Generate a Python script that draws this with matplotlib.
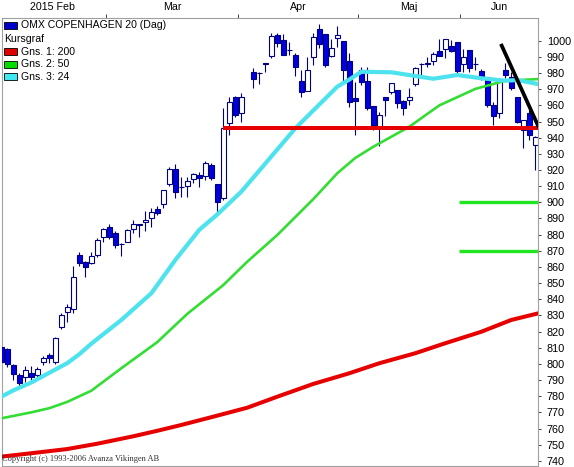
import numpy as np
import matplotlib
matplotlib.use("Agg")
import matplotlib.pyplot as plt
from matplotlib.patches import Rectangle
from matplotlib.transforms import blended_transform_factory

plt.rcParams['font.family'] = ['Liberation Sans', 'DejaVu Sans']

# OMX Copenhagen 20, daily candles Feb - Jun 2015 (slot 41 is empty)
nan = np.nan
opens = [810.5, 809.2, 799.3, 793.1, 791.9, 794.4, 793.1, 801.2, 805.5, 801.2,
         822.8, 832.1, 834.0, 867.4, 863.1, 862.5, 867.4, 878.5, 884.7, 881.0,
         874.5, 875.5, 883.5, 886.0, 887.8, 890.3, 895.9, 899.0, 911.3, 920.6,
         909.6, 910.1, 914.4, 916.9, 916.3, 923.1, 911.3, 902.7, 949.1, 965.2,
         955.3, nan, 980.6, 979.9, 986.2, 990.5, 1003.5, 1000.4, 994.3, 991.2,
         975.1, 969.1, 989.9, 1007.1, 1004.2, 990.5, 1001.5, 999.8, 987.5, 964.7,
         981.9, 975.1, 959.6, 945.8, 965.4, 968.5, 969.5, 963.0, 963.3, 973.0,
         985.5, 986.4, 987.6, 993.6, 994.9, 996.9, 999.4, 985.8, 994.3, 985.5,
         981.3, 977.4, 960.2, 955.1, 981.9, 977.7, 965.2, 944.8, 955.1, 935.5]
highs = [811.7, 810.0, 799.9, 794.4, 798.7, 798.7, 798.1, 804.9, 806.8, 816.7,
         831.5, 837.1, 860.6, 869.3, 863.7, 869.3, 877.9, 884.1, 886.6, 882.0,
         874.8, 883.5, 889.0, 886.3, 894.6, 896.5, 897.7, 907.6, 921.9, 923.7,
         915.7, 915.7, 918.1, 918.8, 925.6, 924.3, 911.3, 958.4, 965.2, 965.8,
         967.7, nan, 983.1, 980.6, 986.2, 1004.6, 1004.6, 1004.2, 999.2, 992.4,
         981.9, 989.7, 1004.6, 1010.2, 1004.2, 1000.9, 1009.1, 999.8, 992.6, 974.6,
         983.9, 983.9, 959.6, 955.9, 965.4, 973.7, 969.5, 963.3, 970.5, 983.9,
         986.4, 990.1, 993.2, 1000.9, 1000.9, 1000.4, 999.4, 994.7, 994.3, 989.7,
         982.5, 977.4, 962.3, 974.6, 986.0, 980.6, 965.4, 950.9, 957.0, 941.0]
lows = [797.5, 798.1, 790.1, 785.1, 788.8, 788.2, 790.1, 799.3, 800.6, 800.0,
        821.6, 825.9, 831.5, 860.6, 853.8, 861.8, 866.0, 875.5, 877.0, 872.0,
        866.8, 875.5, 881.0, 878.5, 882.3, 884.7, 892.2, 896.5, 910.0, 902.7,
        903.3, 903.3, 911.9, 909.5, 913.8, 914.0, 893.4, 901.4, 941.7, 952.8,
        949.7, nan, 970.7, 973.2, 980.6, 989.3, 996.3, 990.9, 991.2, 978.2,
        965.5, 969.0, 985.0, 995.3, 984.0, 989.9, 996.3, 974.6, 959.2, 941.7,
        972.6, 957.0, 944.8, 934.8, 953.4, 967.0, 958.2, 954.0, 960.2, 972.0,
        978.8, 983.9, 985.0, 990.7, 989.1, 993.0, 979.0, 980.8, 980.6, 981.9,
        976.0, 959.0, 947.9, 952.0, 977.0, 969.5, 949.0, 933.8, 938.6, 920.0]
closes = [801.2, 800.0, 793.8, 788.2, 796.2, 791.9, 796.9, 803.7, 803.7, 816.0,
          830.3, 835.2, 853.8, 862.5, 860.0, 866.8, 876.7, 883.5, 878.5, 873.6,
          874.2, 882.9, 886.6, 886.0, 889.0, 894.0, 893.4, 907.6, 920.6, 906.4,
          909.5, 913.2, 917.5, 915.0, 924.3, 915.0, 900.2, 946.0, 962.1, 954.0,
          965.2, nan, 976.3, 979.8, 985.4, 1002.9, 998.8, 990.9, 994.0, 983.7,
          968.0, 981.9, 1002.1, 998.2, 985.0, 995.3, 1003.5, 981.9, 961.8, 962.7,
          974.6, 958.2, 947.9, 954.0, 963.3, 973.7, 961.3, 958.2, 965.4, 982.9,
          985.4, 985.4, 991.8, 990.7, 1000.9, 993.8, 981.4, 990.1, 982.9, 985.4,
          977.6, 960.2, 953.7, 974.6, 978.8, 970.6, 949.9, 950.9, 941.7, 940.2]

ma200_day = [0, 5, 11, 16, 22, 26, 30, 35, 41, 46, 52, 58, 63, 69, 74, 80, 85, 89.5]
ma200 = [742.6, 744.7, 747.3, 750.6, 755.2, 758.6, 762.2, 767.0, 772.9, 779.7,
         787.6, 794.2, 800.4, 806.6, 812.8, 819.9, 827.2, 831.3]
ma50_day = [0, 5, 8, 11, 15, 20, 26, 31, 37, 41, 46, 52, 56, 59, 62, 68, 73,
            79, 84, 89.5]
ma50 = [766.3, 770.0, 772.6, 776.5, 783.4, 797.3, 813.5, 831.0, 848.8, 863.3,
        879.8, 902.0, 918.0, 927.5, 934.4, 946.8, 960.0, 970.2, 975.3, 976.3]
ma24_day = [0, 2, 5, 11, 13, 15, 20, 25, 29, 33, 36, 40, 49, 56, 58, 60, 65,
            72, 76, 80, 84, 86, 89.5]
ma24 = [779.7, 783.6, 788.5, 800.5, 806.0, 812.5, 827.2, 843.7, 864.3, 883.0,
        892.5, 906.6, 945.8, 971.6, 976.0, 980.8, 980.5, 976.5, 978.8, 976.8,
        975.3, 975.7, 973.2]

months = ["2015 Feb", "Mar", "Apr", "Maj", "Jun"]
month_start = [0, 18, 40, 60, 77]

support_level = 946.0
support_from = 37
target_levels = [900, 870]
target_from = 76.3
trend_day = [83.4, 89.5]
trend_val = [997.0, 947.1]

legend_names = ["OMX COPENHAGEN 20 (Dag)", "Kursgraf", "Gns. 1: 200", "Gns. 2: 50", "Gns. 3: 24"]
legend_colors = ["#0000CC", None, "#E00000", "#00DD00", "#40E8F0"]

o = np.array(opens)
h = np.array(highs)
l = np.array(lows)
c = np.array(closes)
day = np.arange(len(o))
ok = np.isfinite(o)
up = ok & (c >= o)
dn = ok & (c < o)

W, H = 574, 467
fig = plt.figure(figsize=(W / 100, H / 100), dpi=100)
x0, x1, ytop, ybot = 1.5, 538.3, 18, 466
ax = fig.add_axes([x0 / W, 1 - ybot / H, (x1 - x0) / W, (ybot - ytop) / H])
ax.set_xlim(0.03, 89.5)
ax.set_ylim(736.8, 1014.1)

edge = "#000080"
ax.vlines(day[ok], l[ok], h[ok], color=edge, lw=0.8, zorder=2)
ax.bar(day[up], np.maximum(c[up] - o[up], 0.3), bottom=o[up], width=0.75,
       facecolor="white", edgecolor=edge, linewidth=0.8, zorder=3)
ax.bar(day[dn], c[dn] - o[dn], bottom=o[dn], width=0.75,
       facecolor="#0000DD", edgecolor=edge, linewidth=0.8, zorder=3)

ax.plot(ma200_day, ma200, color="#E60000", lw=2.9, zorder=4)
ax.plot(ma50_day, ma50, color="#33DD33", lw=1.9, zorder=4)
ax.plot(ma24_day, ma24, color="#4DE3EE", lw=3.0, zorder=4)

ax.hlines(support_level, support_from, 89.5, color="#E60000", lw=2.9, zorder=5)
ax.hlines(target_levels, target_from, 89.5, color="#22E622", lw=2.4, zorder=5)
ax.plot(trend_day, trend_val, color="black", lw=2.7, zorder=6)

# axes look
for side in ["left", "right", "top", "bottom"]:
    ax.spines[side].set_color("#A0A0A0")
    ax.spines[side].set_linewidth(0.8)
ax.yaxis.tick_right()
ax.set_yticks(range(740, 1001, 10))
ax.tick_params(axis="y", direction="out", length=2.5, width=0.7, color="#404040",
               pad=3.6, labelsize=7.8)
ax.xaxis.tick_top()
ax.set_xticks([s - 0.5 for s in month_start[1:]])
ax.set_xticklabels([])
ax.tick_params(axis="x", direction="out", length=3, width=0.7, color="#404040")

tr = blended_transform_factory(ax.transData, ax.transAxes)
bounds = [s - 0.5 for s in month_start[1:]]
lefts = [-0.5] + bounds
rights = bounds + [89.5]
for name, a, b in zip(months, lefts, rights):
    ax.text((a + b) / 2, 1.0246, name, transform=tr, ha="center", va="center",
            fontsize=7.7)

# legend, top left
ys = [25.2, 39.3, 51.7, 64.0, 76.7]
for name, col, yy in zip(legend_names, legend_colors, ys):
    if col is not None:
        fig.add_artist(Rectangle((4 / W, 1 - (yy + 3.5) / H), 13 / W, 7 / H,
                                 transform=fig.transFigure, facecolor=col,
                                 edgecolor="black", linewidth=0.6))
        tx = 20.7
    else:
        tx = 4
    fig.text(tx / W, 1 - yy / H, name, ha="left", va="center", fontsize=7.6)

fig.text(2 / W, 1 - 459 / H, "Copyright (c) 1993-2006 Avanza Vikingen AB",
         family=["Liberation Serif", "DejaVu Serif"], fontsize=6, va="center",
         color="#303030")

fig.savefig("out.png", dpi=100)
